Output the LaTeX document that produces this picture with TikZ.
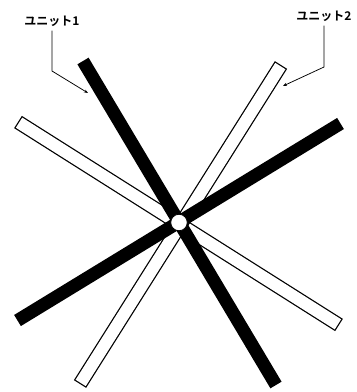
\documentclass[tikz,border=0pt]{standalone}
\usepackage{fontspec}
\newfontfamily\jpfont{Noto Sans CJK JP}[BoldFont={* Bold}]
\usetikzlibrary{arrows.meta,positioning}
\tikzset{
  every picture/.append style={line cap=butt,line join=miter},
  unit black/.style={line width=13pt},
  unit white/.style={line width=14.5pt},
  unit white fill/.style={white,line width=12pt,shorten <=1.25pt,shorten >=1.25pt},
  unit hub/.style={circle,fill=white,draw=black,line width=0.8pt,minimum size=16.5pt,inner sep=0pt},
  unit label/.style={font=\jpfont\bfseries\fontsize{12}{14}\selectfont,inner sep=1pt},
  unit leader/.style={line width=0.75pt,-{Stealth[length=4pt,width=3pt]}}
}
\begin{document}
\begin{tikzpicture}[x=1pt,y=-1pt]
  \useasboundingbox (0,0) rectangle (357,392);
  % bar ends
  \coordinate (wa1) at (80,384);   \coordinate (wa2) at (281,65);
  \coordinate (wb1) at (18,122);   \coordinate (wb2) at (339,325);
  \coordinate (ba1) at (83,61);    \coordinate (ba2) at (276,385);
  \coordinate (bb1) at (17.5,320.5); \coordinate (bb2) at (340.5,123.5);
  % white bars
  \foreach \p/\q in {wb1/wb2,wa1/wa2} {
    \draw[unit white] (\p) -- (\q);
    \draw[unit white fill] (\p) -- (\q);
  }
  % black bars
  \foreach \p/\q in {bb1/bb2,ba1/ba2}
    \draw[unit black] (\p) -- (\q);
  \node[unit hub] (hub) at (179,222.5) {};
  % labels
  \node[unit label] (lab1) at (52,21) {ユニット1};
  \node[unit label] (lab2) at (324,16) {ユニット2};
  \coordinate (bend1) at (52,71);  \coordinate (tip1) at (88,93);
  \coordinate (bend2) at (324,67); \coordinate (tip2) at (283,86);
  \draw[unit leader] ([yshift=-3pt]lab1.south) -- (bend1) -- (tip1);
  \draw[unit leader] ([yshift=-3pt]lab2.south) -- (bend2) -- (tip2);
\end{tikzpicture}
\end{document}
